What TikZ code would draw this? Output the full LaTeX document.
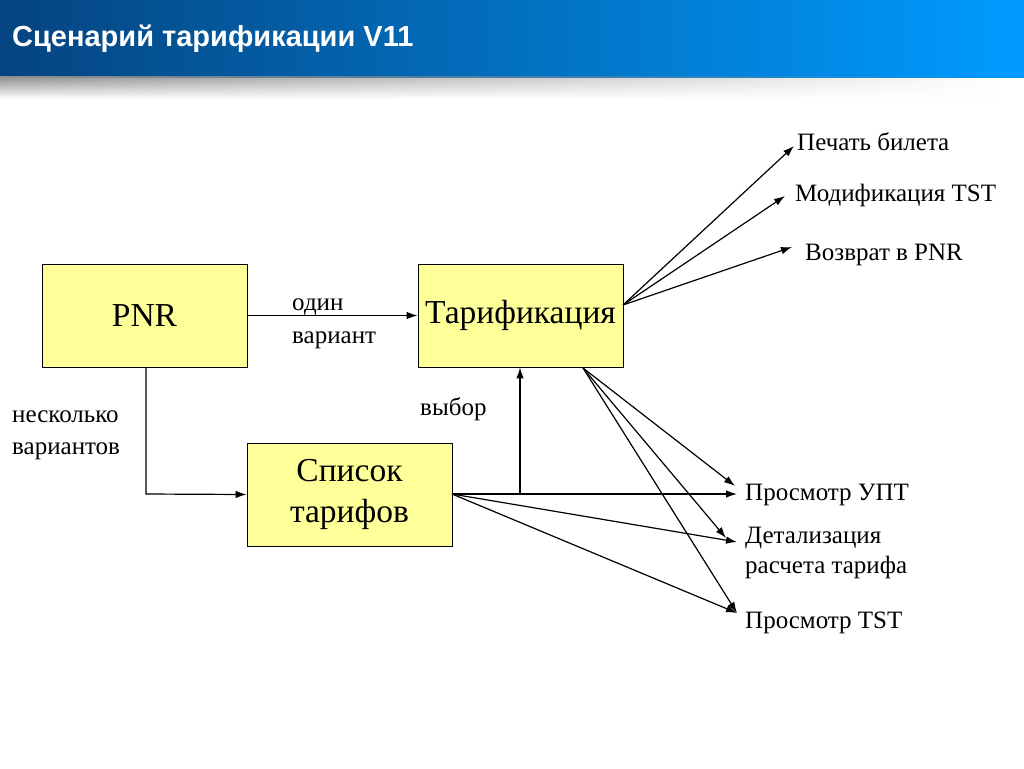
\documentclass[tikz,border=0pt]{standalone}
\usepackage{fontspec}
\setmainfont{Liberation Serif}
\newfontfamily\headfont{Liberation Sans}
\usetikzlibrary{arrows.meta,fadings}
\definecolor{boxyellow}{RGB}{255,255,153}
\definecolor{bandleft}{RGB}{5,68,128}
\definecolor{bandmid}{RGB}{0,125,215}
\definecolor{bandright}{RGB}{0,155,255}
\tikzfading[name=fadeeast, left color=transparent!0, right color=transparent!100]
\tikzset{
  blk/.style={draw=black, line width=0.9pt, fill=boxyellow, minimum width=205pt, minimum height=103pt, inner sep=0pt, align=center, font=\fontsize{33.5}{38}\selectfont},
  lbl/.style={anchor=base west, inner sep=0pt, font=\fontsize{25}{29}\selectfont, align=left},
  arr/.style={line width=1.2pt, -{Latex[length=11pt,width=7.5pt]}},
  ln/.style={line width=1.2pt}
}
\begin{document}
\begin{tikzpicture}[x=1pt,y=-1pt]
\useasboundingbox (0,0) rectangle (1024,768);
\fill[white] (0,0) rectangle (1024,768);
% header
\shade[left color=bandleft, middle color=bandmid, right color=bandright] (0,0) rectangle (1024,77);
\shade[top color=gray!85, bottom color=white, path fading=fadeeast] (0,77) rectangle (1000,99);
\node[anchor=base west, inner sep=0pt, text=white, font=\headfont\bfseries\fontsize{29}{33}\selectfont] (title) at (12,46) {Сценарий тарификации V11};
% boxes
\node[blk] (pnr) at (144.5,315.5) {\raisebox{-3pt}{PNR}};
\node[blk] (tar) at (520.5,315.5) {\raisebox{-3pt}{Тарификация}};
\node[blk] (spis) at (349.5,494.5) {Список\\[3pt]тарифов};
% labels
\node[lbl] (odin) at (292,310) {один};
\node[lbl] (var) at (292,343) {вариант};
\node[lbl] (nesk) at (12,422) {несколько};
\node[lbl] (vars) at (12,454) {вариантов};
\node[lbl] (vyb) at (420,415) {выбор};
\node[lbl] (pech) at (797,150) {Печать билета};
\node[lbl] (mod) at (795,201) {Модификация TST};
\node[lbl] (voz) at (805,260) {Возврат в PNR};
\node[lbl] (upt) at (745,500) {Просмотр УПТ};
\node[lbl] (det) at (745,543) {Детализация};
\node[lbl] (det2) at (745,573) {расчета тарифа};
\node[lbl] (tst) at (745,628) {Просмотр TST};
% endpoints
\coordinate (tR) at (623,305);
\coordinate (tB) at (583,368);
\coordinate (sR) at (452,494);
\coordinate (ePech) at (794,146);
\coordinate (eMod) at (785,196);
\coordinate (eVoz) at (792,247);
\coordinate (eUpt1) at (735,486);
\coordinate (eUpt2) at (737,494);
\coordinate (eDet1) at (726,538);
\coordinate (eDet2) at (737,542);
\coordinate (eTst) at (737,613);
\coordinate (bend1) at (146,494);
\coordinate (bend2) at (520,494);
% connectors
\draw[arr] (pnr.east) -- (tar.west);
\draw[arr] (pnr.south -| bend1) -- (bend1) -- (spis.west);
\draw[arr] (sR) -- (bend2) -- (tar.south -| bend2);
\draw[arr] (sR) -- (eUpt2);
\draw[arr] (sR) -- (eDet2);
\draw[arr] (sR) -- (eTst);
\draw[arr] (tB) -- (eUpt1);
\draw[arr] (tB) -- (eDet1);
\draw[arr] (tB) -- (eTst);
\draw[arr] (tR) -- (ePech);
\draw[arr] (tR) -- (eMod);
\draw[arr] (tR) -- (eVoz);
\end{tikzpicture}
\end{document}
